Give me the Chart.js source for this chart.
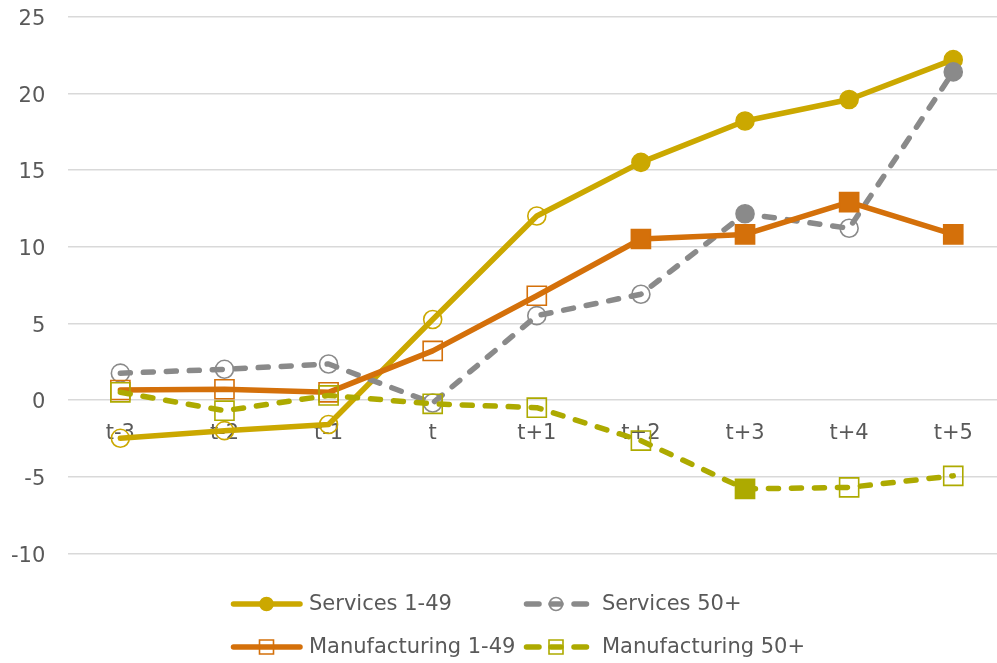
<!DOCTYPE html>
<html>
<head>
<meta charset="utf-8">
<script src="https://cdn.jsdelivr.net/npm/chart.js@4/dist/chart.umd.min.js"></script>
<style>
  html, body { margin: 0; padding: 0; background: #fff; overflow: hidden; }
  canvas { display: block; }
</style>
</head>
<body>
<canvas id="c" width="1006" height="663" style="width:1006px;height:663px"></canvas>
<script>
// ---- data ----
const categories = ["t-3", "t-2", "t-1", "t", "t+1", "t+2", "t+3", "t+4", "t+5"];
const seriesNames = ["Services 1-49", "Services 50+", "Manufacturing 1-49", "Manufacturing 50+"];
const services1to49 = [-2.5, -2.0, -1.6, 5.25, 12.0, 15.5, 18.2, 19.6, 22.2];
const services50plus = [1.75, 2.0, 2.35, -0.2, 5.5, 6.9, 12.15, 11.2, 21.4];
const manufacturing1to49 = [0.65, 0.7, 0.5, 3.2, 6.8, 10.5, 10.8, 12.9, 10.8];
const manufacturing50plus = [0.5, -0.7, 0.3, -0.25, -0.5, -2.65, -5.8, -5.7, -4.95];
// filled marker = 1, hollow marker = 0
const services1to49Filled = [0, 0, 0, 0, 0, 1, 1, 1, 1];
const services50plusFilled = [0, 0, 0, 0, 0, 0, 1, 0, 1];
const manufacturing1to49Filled = [0, 0, 0, 0, 0, 1, 1, 1, 1];
const manufacturing50plusFilled = [0, 0, 0, 0, 0, 0, 1, 0, 0];
const yTicks = [-10, -5, 0, 5, 10, 15, 20, 25];

// ---- styles ----
const FONT = "'DejaVu Sans', Verdana, sans-serif";
const TEXT = "#595959";
const C_GOLD = "#CBA800";
const C_GRAY = "#8A8A8A";
const C_ORANGE = "#D4700A";
const C_OLIVE = "#ADAA00";
const DASH = [10, 13];
const LINE_W = 5.5;

// markers may overflow the plot edge, as in the original; do not reserve padding for them
Chart.registry.getController("line").prototype.getMaxOverflow = function () { return 0; };

function fills(flags, color) { return flags.map(f => f ? color : "rgba(0,0,0,0)"); }

function ds(label, data, flags, color, style, dashed, order) {
  const isRect = style === "rect";
  return {
    label, data, order,
    borderColor: color,
    borderWidth: LINE_W,
    borderDash: dashed ? DASH : [],
    borderCapStyle: "round",
    borderJoinStyle: "round",
    tension: 0,
    pointStyle: style,
    pointRadius: isRect ? 13.5 : 9,
    pointBorderWidth: 1.6,
    pointBorderColor: color,
    pointBackgroundColor: fills(flags, color),
    clip: false
  };
}

const legendItems = [
  { name: seriesNames[0], color: C_GOLD, dashed: false, style: "circle", filled: true, x: 231, y: 604 },
  { name: seriesNames[1], color: C_GRAY, dashed: true, style: "circle", filled: false, x: 524, y: 604 },
  { name: seriesNames[2], color: C_ORANGE, dashed: false, style: "rect", filled: false, x: 231, y: 647 },
  { name: seriesNames[3], color: C_OLIVE, dashed: true, style: "rect", filled: false, x: 524, y: 647 }
];

const legendPlugin = {
  id: "customLegend",
  afterDraw(chart) {
    const ctx = chart.ctx;
    ctx.save();
    legendItems.forEach(it => {
      ctx.strokeStyle = it.color;
      ctx.lineWidth = LINE_W;
      ctx.lineCap = "round";
      ctx.setLineDash([]);
      let mx;
      if (!it.dashed) {
        ctx.beginPath(); ctx.moveTo(it.x + 2.5, it.y); ctx.lineTo(it.x + 69, it.y); ctx.stroke();
        mx = it.x + 35.5;
      } else {
        const segs = [[it.x + 2.5, it.x + 15], [it.x + 27, it.x + 37], [it.x + 50, it.x + 62.5]];
        segs.forEach(s => { ctx.beginPath(); ctx.moveTo(s[0], it.y); ctx.lineTo(s[1], it.y); ctx.stroke(); });
        mx = it.x + 32;
      }
      ctx.lineWidth = 1.6;
      ctx.beginPath();
      if (it.style === "circle") {
        ctx.arc(mx, it.y, 6.5, 0, Math.PI * 2);
      } else {
        ctx.rect(mx - 7, it.y - 7, 14, 14);
      }
      if (it.filled) { ctx.fillStyle = it.color; ctx.fill(); }
      ctx.stroke();
      ctx.fillStyle = TEXT;
      ctx.font = "21px " + FONT;
      ctx.textBaseline = "middle";
      ctx.textAlign = "left";
      ctx.fillText(it.name, it.x + 78, it.y + 1);
    });
    ctx.restore();
  }
};

function zeroPad(scale) {
  scale.paddingLeft = 0; scale.paddingRight = 0;
  scale.paddingTop = 0; scale.paddingBottom = 0;
}

new Chart(document.getElementById("c"), {
  type: "line",
  data: {
    labels: categories,
    datasets: [
      ds(seriesNames[0], services1to49, services1to49Filled, C_GOLD, "circle", false, 4),
      ds(seriesNames[1], services50plus, services50plusFilled, C_GRAY, "circle", true, 3),
      ds(seriesNames[2], manufacturing1to49, manufacturing1to49Filled, C_ORANGE, "rect", false, 2),
      ds(seriesNames[3], manufacturing50plus, manufacturing50plusFilled, C_OLIVE, "rect", true, 1)
    ]
  },
  options: {
    responsive: false,
    maintainAspectRatio: false,
    devicePixelRatio: 1,
    animation: false,
    layout: { padding: { top: 16.7, bottom: 109.7, left: 0, right: 0.7 } },
    plugins: { legend: { display: false }, tooltip: { enabled: false } },
    scales: {
      x: {
        position: { y: 0 },
        offset: true,
        afterFit: zeroPad,
        grid: { display: false, drawTicks: false },
        border: { display: false },
        ticks: { color: TEXT, font: { family: FONT, size: 21 }, padding: 21, maxRotation: 0, autoSkip: false }
      },
      y: {
        min: yTicks[0],
        max: yTicks[yTicks.length - 1],
        afterBuildTicks(scale) { scale.ticks = yTicks.map(v => ({ value: v })); },
        afterFit(scale) { scale.width = 68.3; zeroPad(scale); },
        grid: { color: "#D9D9D9", lineWidth: 1.5, drawTicks: false },
        border: { display: false },
        ticks: { color: TEXT, font: { family: FONT, size: 21 }, padding: 23, labelOffset: 3 }
      }
    }
  },
  plugins: [legendPlugin]
});
</script>
</body>
</html>
